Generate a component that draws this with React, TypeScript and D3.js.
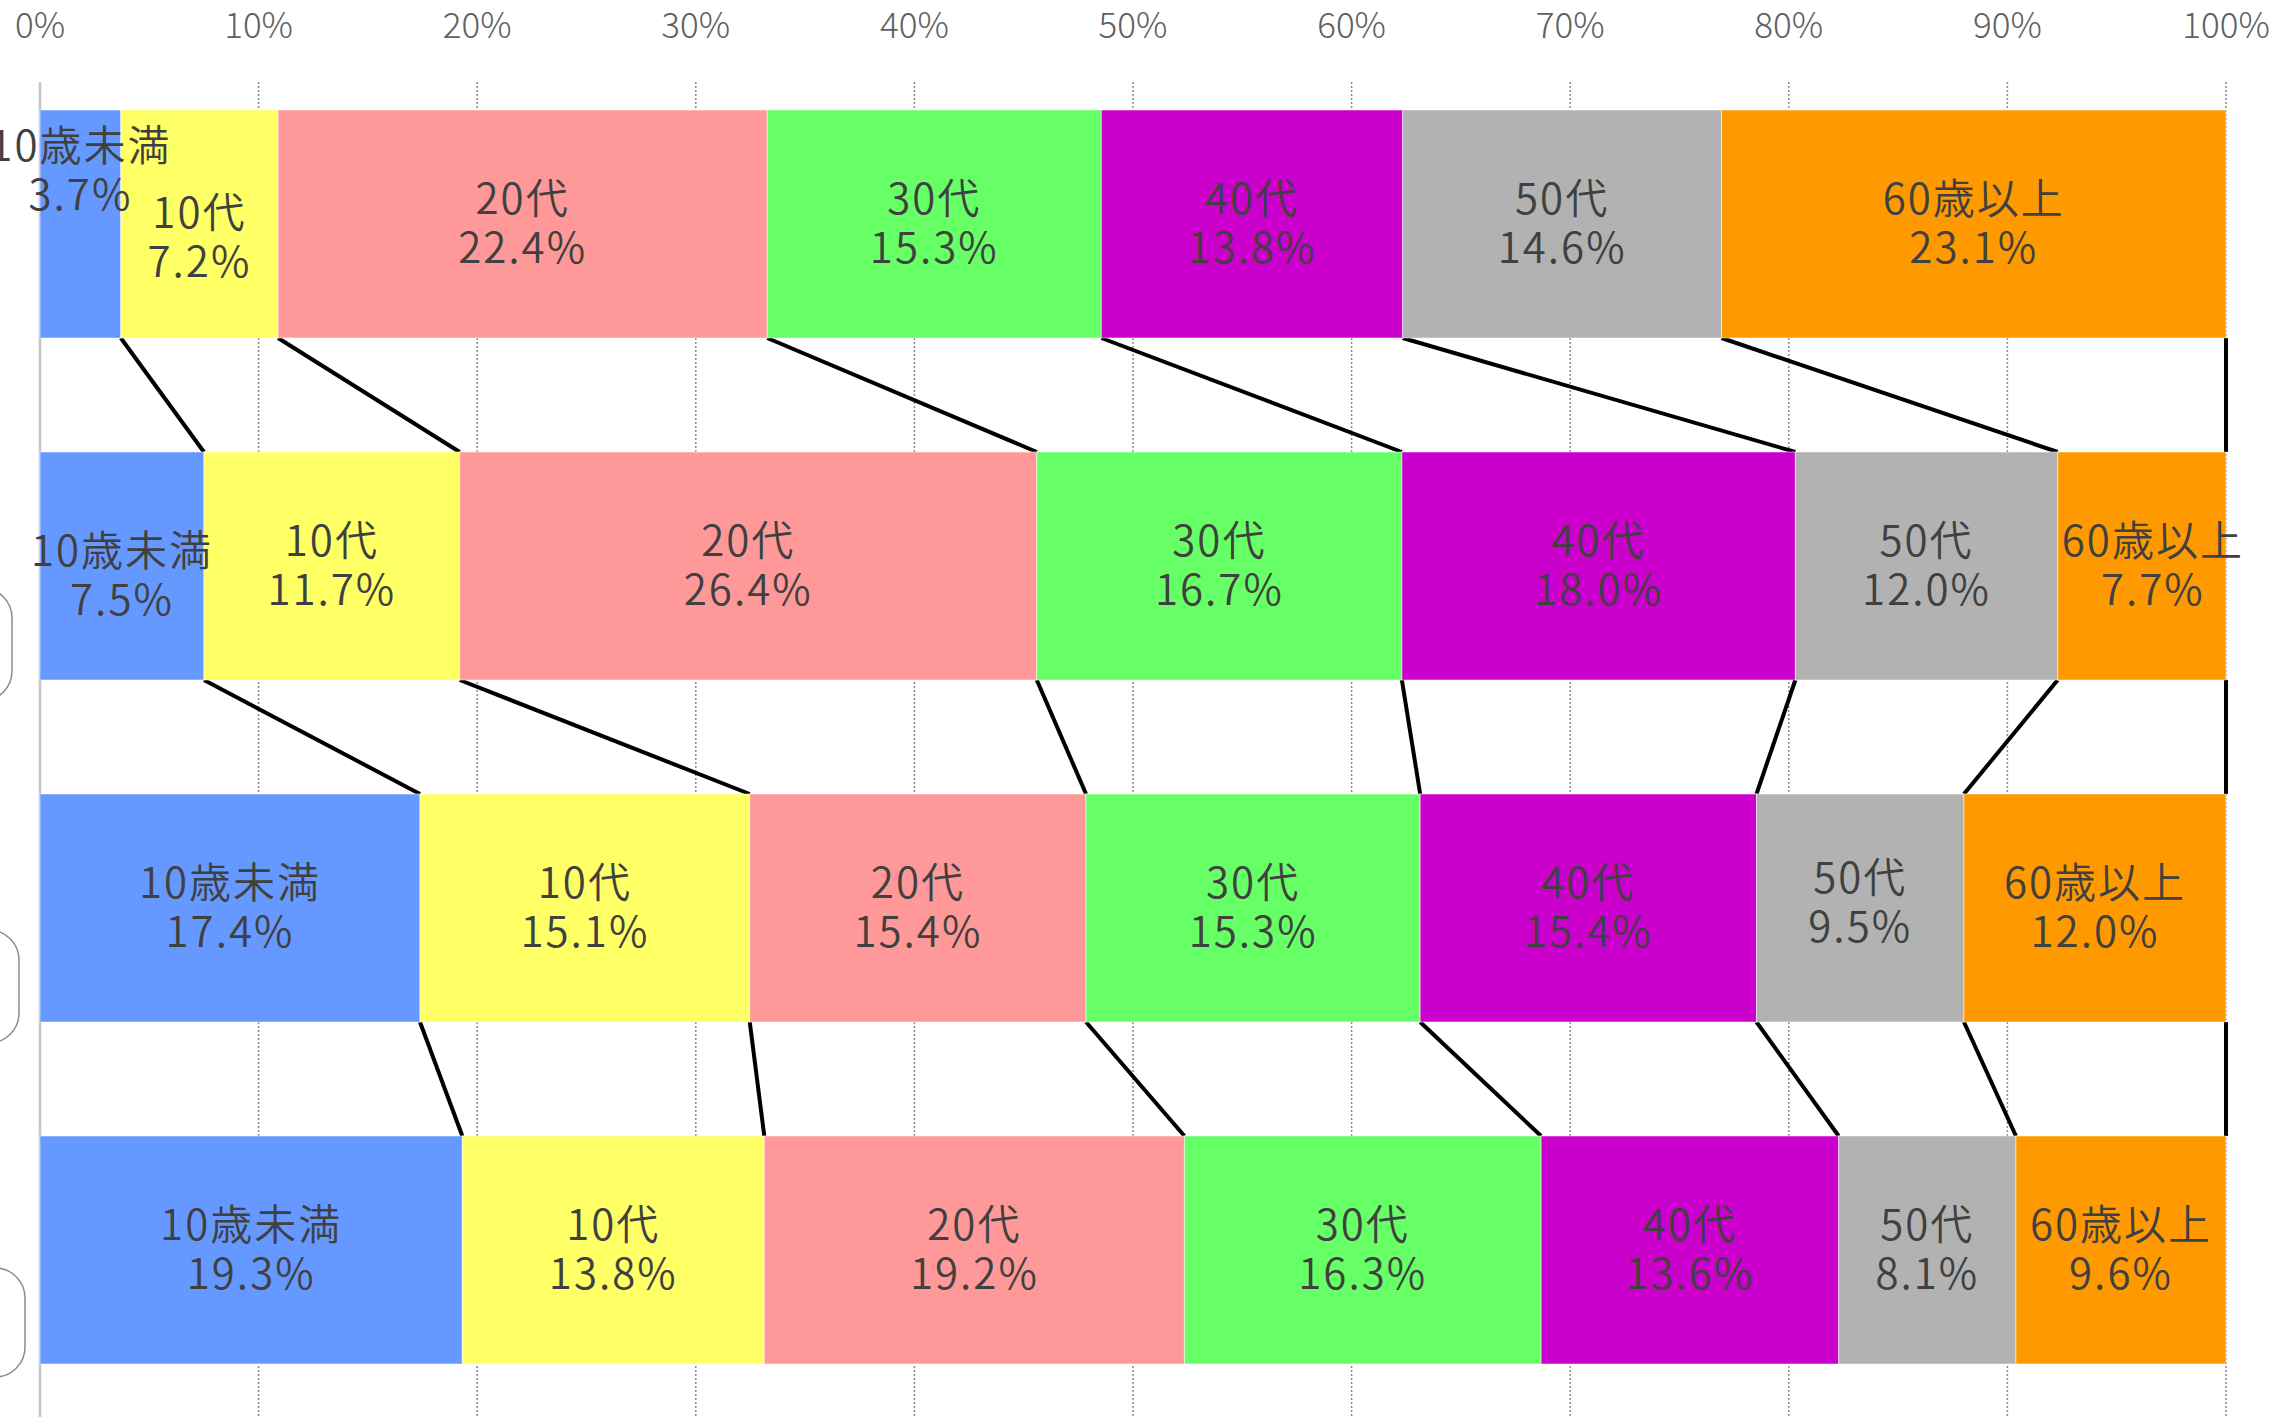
import { useEffect, useRef } from 'react'
import * as d3 from 'd3'

const CATEGORIES = ['10歳未満', '10代', '20代', '30代', '40代', '50代', '60歳以上']
const ROWS = ['row1', 'row2', 'row3', 'row4']

const ROW1 = [3.7, 7.2, 22.4, 15.3, 13.8, 14.6, 23.1]
const ROW2 = [7.5, 11.7, 26.4, 16.7, 18.0, 12.0, 7.7]
const ROW3 = [17.4, 15.1, 15.4, 15.3, 15.4, 9.5, 12.0]
const ROW4 = [19.3, 13.8, 19.2, 16.3, 13.6, 8.1, 9.6]
const VALUES = [ROW1, ROW2, ROW3, ROW4]

const TICKS = [0, 10, 20, 30, 40, 50, 60, 70, 80, 90, 100]

const COLORS = ['#6699ff', '#ffff66', '#ff9999', '#66ff66', '#cc00cc', '#b2b2b2', '#ff9900']

// label nudges (px) where the chart moved overlapping labels: [row, category, dx, dy]
const NUDGES: [number, number, number, number][] = [
  [0, 0, 0, -53],
  [0, 1, 0, 14],
  [1, 0, 0, 10],
  [1, 6, 11, 0],
  [2, 5, 0, -5],
]

const W = 2295
const H = 1417

export default function App() {
  const svgRef = useRef<SVGSVGElement>(null)

  useEffect(() => {
    document.body.style.margin = '0'
    if (!svgRef.current) return
    const svg = d3.select(svgRef.current)
    svg.selectAll('*').remove()

    const x = d3.scaleLinear().domain([0, 100]).range([40, 2226])
    const y = d3.scaleBand<string>().domain(ROWS).range([110, 1364]).paddingInner(1 / 3).paddingOuter(0)
    const bh = y.bandwidth()
    const font = '"Noto Sans CJK JP", "Noto Sans", sans-serif'

    // clipped label boxes on the far left
    const boxes = [
      { y0: 588, y1: 701, r: 12 },
      { y0: 930, y1: 1043, r: 19 },
      { y0: 1268, y1: 1377, r: 25 },
    ]
    svg.append('g').selectAll('rect').data(boxes).join('rect')
      .attr('x', d => d.r - 200)
      .attr('y', d => d.y0)
      .attr('width', 200)
      .attr('height', d => d.y1 - d.y0)
      .attr('rx', 30)
      .attr('fill', 'none')
      .attr('stroke', '#8c8c8c')
      .attr('stroke-width', 1.5)

    // grid
    svg.append('g').selectAll('line').data(TICKS.slice(1)).join('line')
      .attr('x1', d => x(d)).attr('x2', d => x(d))
      .attr('y1', 82).attr('y2', H)
      .attr('stroke', '#8a8a8a')
      .attr('stroke-width', 1.5)
      .attr('stroke-dasharray', '2,2')

    svg.append('line')
      .attr('x1', x(0)).attr('x2', x(0))
      .attr('y1', 82).attr('y2', H)
      .attr('stroke', '#c4c4c4')
      .attr('stroke-width', 2.5)

    svg.append('g').selectAll('text').data(TICKS).join('text')
      .attr('x', d => x(d))
      .attr('y', 38)
      .attr('text-anchor', 'middle')
      .attr('font-family', font)
      .attr('font-size', 35)
      .attr('font-weight', 300)
      .attr('fill', '#606060')
      .text(d => `${d}%`)

    // cumulative positions, normalised to 100
    const stacks = VALUES.map(vals => {
      const total = d3.sum(vals)
      let acc = 0
      return vals.map(v => {
        const s = acc
        acc += (v / total) * 100
        return { s, e: acc }
      })
    })

    // connector lines between rows
    const conn = svg.append('g')
    for (let r = 0; r < ROWS.length - 1; r++) {
      const bottom = y(ROWS[r])! + bh
      const top = y(ROWS[r + 1])!
      stacks[r].forEach((seg, k) => {
        conn.append('line')
          .attr('x1', x(seg.e))
          .attr('y1', bottom)
          .attr('x2', x(stacks[r + 1][k].e))
          .attr('y2', top)
          .attr('stroke', '#000')
          .attr('stroke-width', 4)
      })
    }

    // bars
    VALUES.forEach((vals, r) => {
      const g = svg.append('g')
      const y0 = y(ROWS[r])!
      g.selectAll('rect').data(stacks[r]).join('rect')
        .attr('x', d => x(d.s))
        .attr('y', y0)
        .attr('width', d => x(d.e) - x(d.s))
        .attr('height', bh)
        .attr('fill', (_, i) => COLORS[i])
        .attr('stroke', 'rgba(255,255,255,0.5)')
        .attr('stroke-width', 1)
    })

    // labels
    VALUES.forEach((vals, r) => {
      const y0 = y(ROWS[r])!
      vals.forEach((v, i) => {
        const seg = stacks[r][i]
        const n = NUDGES.find(d => d[0] === r && d[1] === i)
        const cx = (x(seg.s) + x(seg.e)) / 2 + (n ? n[2] : 0)
        const cy = y0 + bh / 2 + (n ? n[3] : 0)
        const t = svg.append('text')
          .attr('text-anchor', 'middle')
          .attr('font-family', font)
          .attr('font-size', 42)
          .attr('font-weight', 350)
          .attr('letter-spacing', 2)
          .attr('fill', '#404040')
        t.append('tspan').attr('x', cx).attr('y', cy - 10).text(CATEGORIES[i])
        t.append('tspan').attr('x', cx).attr('y', cy + 39).text(`${v.toFixed(1)}%`)
      })
    })
  }, [])

  return (
    <svg
      ref={svgRef}
      width={W}
      height={H}
      style={{ position: 'absolute', left: 0, top: 0, background: '#fff' }}
    />
  )
}
